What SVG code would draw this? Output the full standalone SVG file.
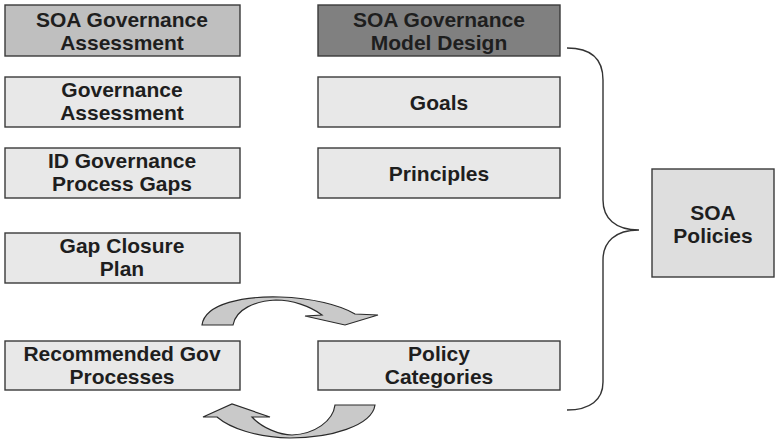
<svg xmlns="http://www.w3.org/2000/svg" width="775" height="441" viewBox="0 0 775 441">
<style>
.box{stroke:#3a3a3a;stroke-width:1.4}
.light{fill:#e8e8e8}
.mid{fill:#bfbfbf}
.dark{fill:#808080}
.pol{fill:#dedede}
text{font-family:"Liberation Sans",Arial,sans-serif;font-weight:bold;font-size:21px;fill:#1e1e1e;text-anchor:middle}
.arrow{fill:#c9c9c9;stroke:#2a2a2a;stroke-width:1.2;stroke-linejoin:miter}
.brace{fill:none;stroke:#333;stroke-width:1.4}
</style>
<rect width="775" height="441" fill="#ffffff"/>
<g id="soa-gov-assessment"><rect class="box mid" x="5" y="5" width="235" height="51"/><text x="122" y="27">SOA Governance</text><text x="122" y="50">Assessment</text></g>
<g id="gov-assessment"><rect class="box light" x="5" y="77" width="235" height="50"/><text x="122" y="97">Governance</text><text x="122" y="120">Assessment</text></g>
<g id="id-gov-gaps"><rect class="box light" x="5" y="148" width="235" height="50"/><text x="122" y="168">ID Governance</text><text x="122" y="191">Process Gaps</text></g>
<g id="gap-closure"><rect class="box light" x="5" y="233" width="235" height="50"/><text x="122" y="253">Gap Closure</text><text x="122" y="276">Plan</text></g>
<g id="recommended"><rect class="box light" x="5" y="341" width="235" height="49"/><text x="122" y="361">Recommended Gov</text><text x="122" y="384">Processes</text></g>
<g id="soa-gov-model"><rect class="box dark" x="318" y="5" width="242" height="51"/><text x="439" y="27">SOA Governance</text><text x="439" y="50">Model Design</text></g>
<g id="goals"><rect class="box light" x="318" y="77" width="242" height="50"/><text x="439" y="110">Goals</text></g>
<g id="principles"><rect class="box light" x="318" y="148" width="242" height="50"/><text x="439" y="181">Principles</text></g>
<g id="policy-categories"><rect class="box light" x="318" y="341" width="242" height="49"/><text x="439" y="361">Policy</text><text x="439" y="384">Categories</text></g>
<g id="soa-policies"><rect class="box pol" x="652" y="169" width="122" height="108"/><text x="713" y="220">SOA</text><text x="713" y="243">Policies</text></g>
<g id="connectors">
<path class="brace" d="M567,48 C590,48 603,58 603,80 L603,200 C603,218 615,230 639,230 C615,230 603,242 603,260 L603,382 C603,400 590,410 567,410"/>
<path class="arrow" d="M202,325 C205,303 245,296 280,297 C312,298 340,305 355,314 L378,315 L345,325 L305,316 L322,315 C310,306 292,300 276,300 C255,301 236,309 233,325 Z"/>
<path class="arrow" d="M375,405 C372,426 330,438 290,438 C255,437 230,428 217,417 L203,417 L232,404 L270,417 L252,417 C262,428 280,435 292,435 C315,434 333,421 335,405 Z"/>
</g>
</svg>
